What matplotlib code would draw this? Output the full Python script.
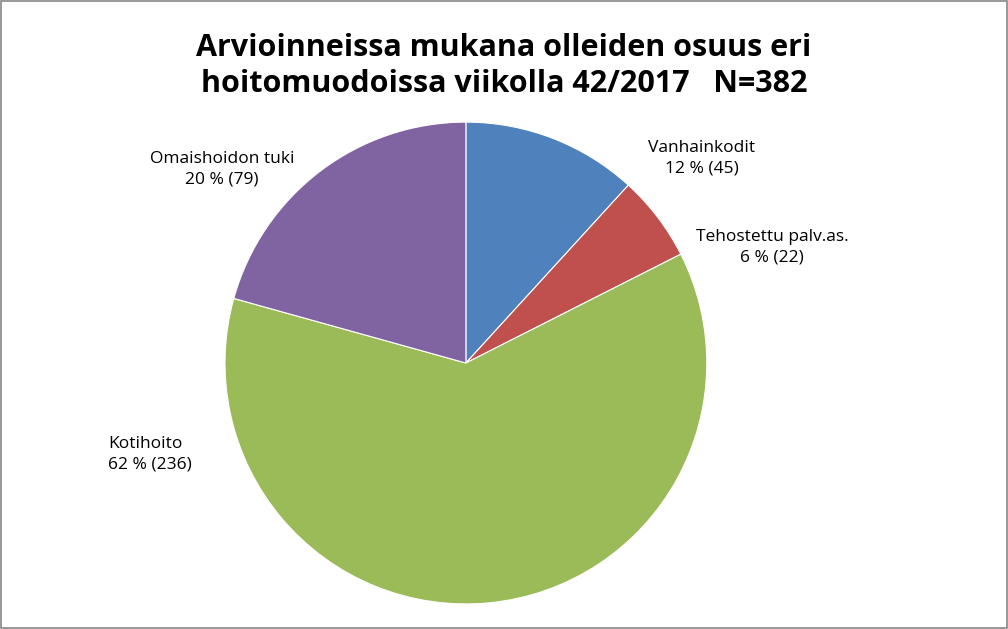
import matplotlib
matplotlib.use("Agg")
import matplotlib.pyplot as plt
from matplotlib.patches import Rectangle

categories = ["Vanhainkodit", "Tehostettu palv.as.", "Kotihoito", "Omaishoidon tuki"]
values = [45, 22, 236, 79]
percents = [12, 6, 62, 20]
colors = ["#4f81bd", "#c0504d", "#9bbb59", "#8064a2"]

plt.rcParams['font.family'] = ['Open Sans', 'DejaVu Sans']
fig = plt.figure(figsize=(10.08, 6.29), dpi=100)
fig.patches.append(Rectangle((0.001, 0.001), 0.998, 0.997, transform=fig.transFigure,
                             fill=False, edgecolor="#868686", linewidth=1.2))
ax = fig.add_axes([0.2232, 0.0397, 0.478, 0.7663])
ax.pie(values, colors=colors, startangle=90, counterclock=False,
       wedgeprops=dict(edgecolor="white", linewidth=0.8))
ax.set_xlim(-1, 1); ax.set_ylim(-1, 1); ax.set_aspect('equal')

pos = [(0.979, 0.851, 'center'), (1.27, 0.481, 'center'),
       (-1.485, -0.378, 'left'), (-1.012, 0.805, 'center')]
for c, p, (x, y, ha) in zip(categories, percents, pos):
    v = values[categories.index(c)]
    ax.text(x, y, f"{c}\n{p} % ({v})", ha=ha, va='center', fontsize=12.5,
            linespacing=1.35, clip_on=False, color="black")

fig.text(0.5, 0.895, "Arvioinneissa mukana olleiden osuus eri\nhoitomuodoissa viikolla 42/2017   N=382",
         ha='center', va='center', fontsize=22, fontweight='bold', linespacing=1.3)
fig.savefig("out.png", dpi=100)
